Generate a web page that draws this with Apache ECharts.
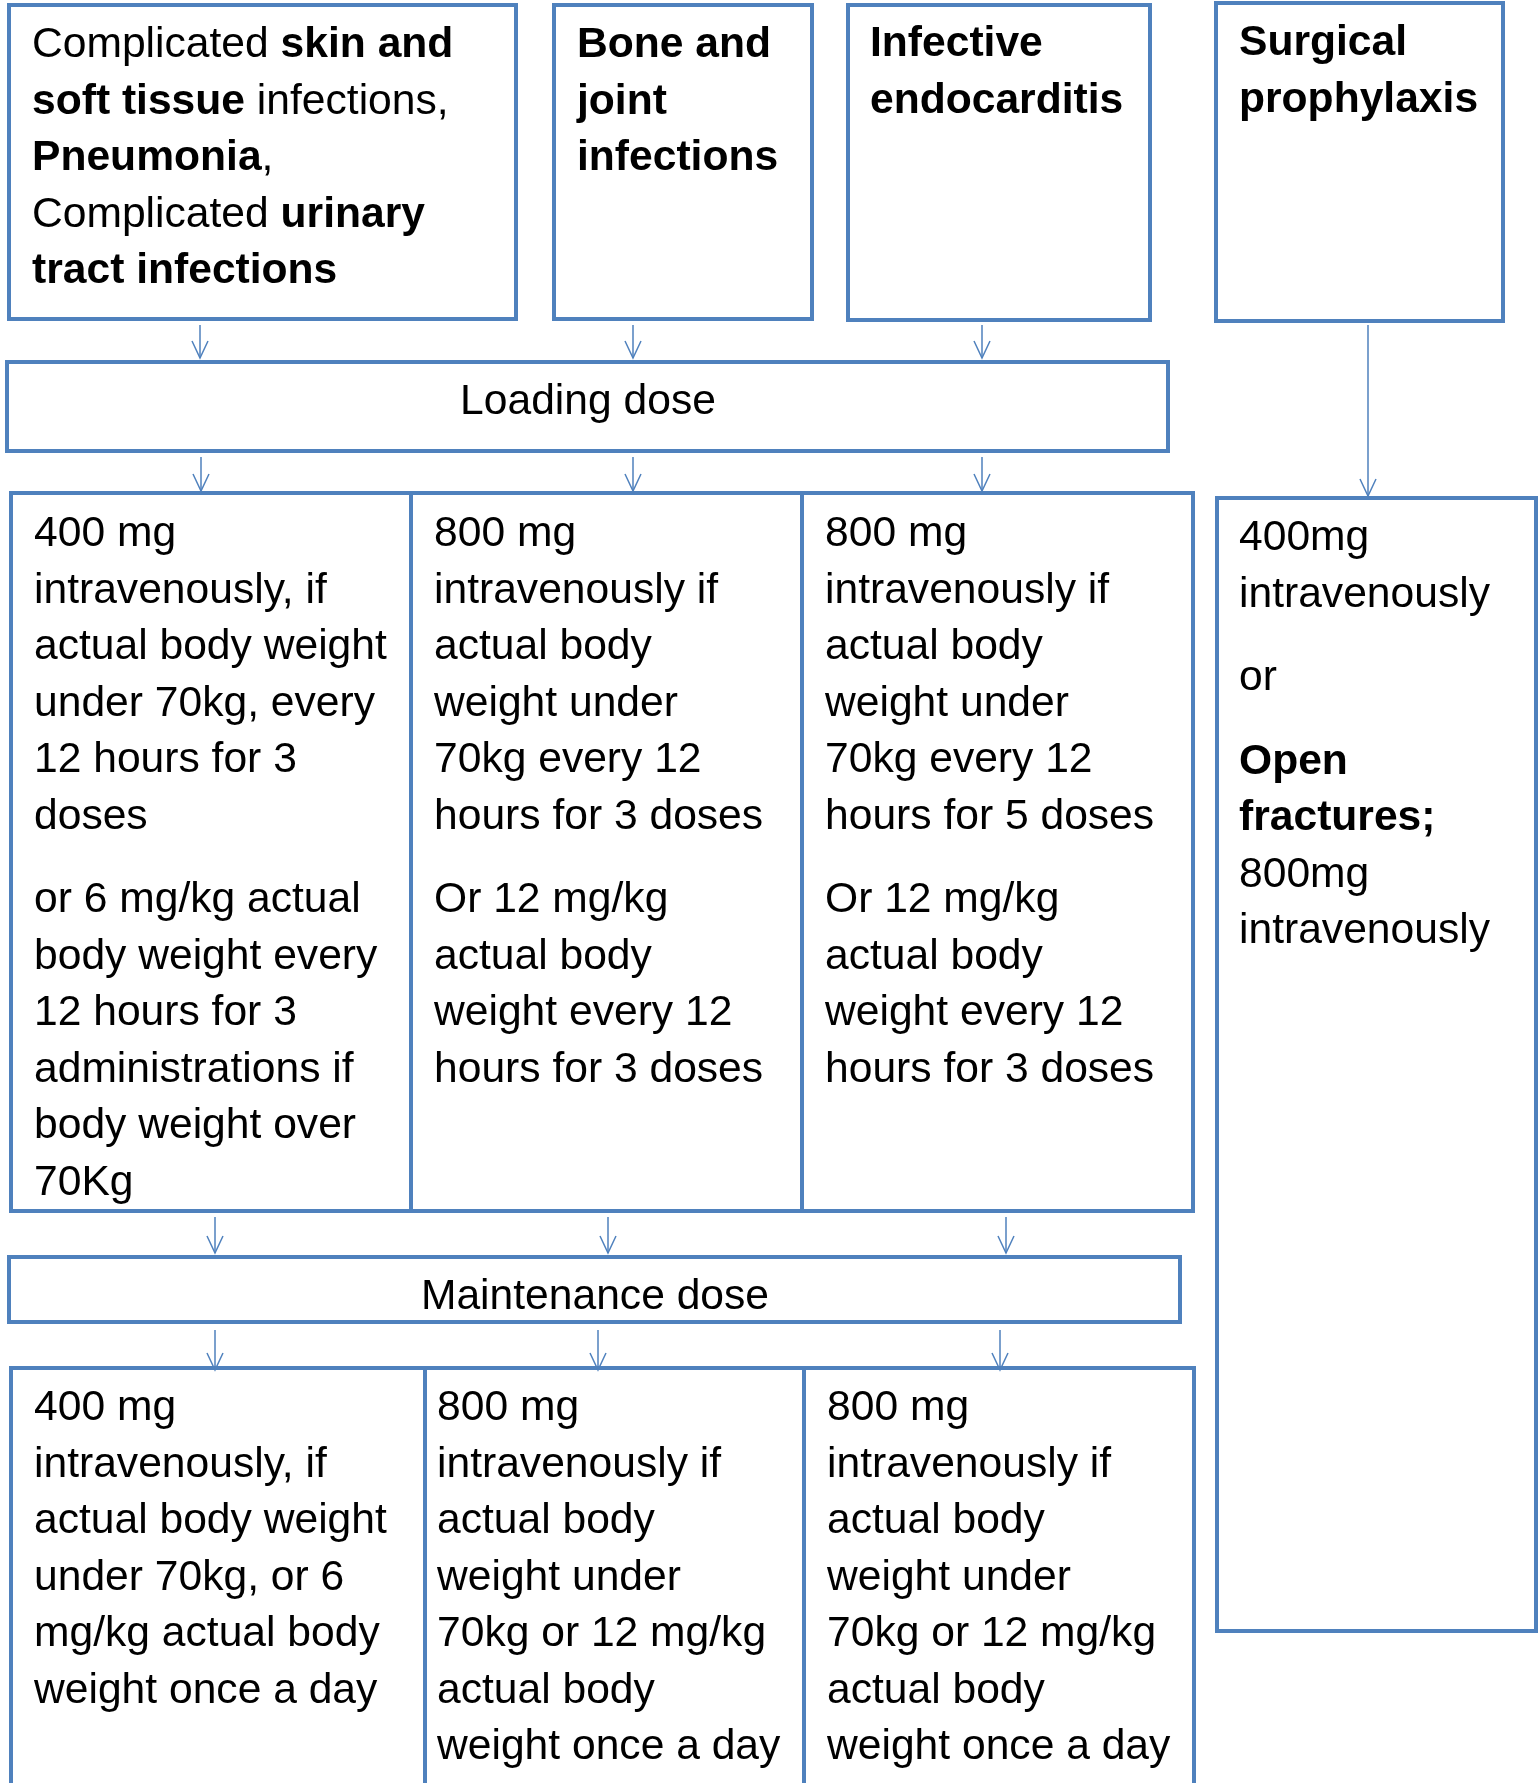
<!DOCTYPE html>
<html>
<head>
<meta charset="utf-8">
<title>Dosing flowchart</title>
<script src="https://cdn.jsdelivr.net/npm/echarts@6/dist/echarts.min.js"></script>
<style>
  html, body { margin: 0; padding: 0; background: #fff; }
  #chart { width: 1539px; height: 1783px; }
</style>
</head>
<body>
<div id="chart"></div>
<script>
// ---- texts ({b|...} marks a bold run) ----
const indications = [
  '{n|Complicated }{b|skin and}\n{b|soft tissue}{n| infections,}\n{b|Pneumonia}{n|,}\n{n|Complicated }{b|urinary}\n{b|tract infections}',
  '{b|Bone and}\n{b|joint}\n{b|infections}',
  '{b|Infective}\n{b|endocarditis}',
  '{b|Surgical}\n{b|prophylaxis}'
];
const stageLabels = ['Loading dose', 'Maintenance dose'];
const loadingDoses = [
  ['400 mg\nintravenously, if\nactual body weight\nunder 70kg, every\n12 hours for 3\ndoses',
   'or 6 mg/kg actual\nbody weight every\n12 hours for 3\nadministrations if\nbody weight over\n70Kg'],
  ['800 mg\nintravenously if\nactual body\nweight under\n70kg every 12\nhours for 3 doses',
   'Or 12 mg/kg\nactual body\nweight every 12\nhours for 3 doses'],
  ['800 mg\nintravenously if\nactual body\nweight under\n70kg every 12\nhours for 5 doses',
   'Or 12 mg/kg\nactual body\nweight every 12\nhours for 3 doses']
];
const maintenanceDoses = [
  ['400 mg\nintravenously, if\nactual body weight\nunder 70kg, or 6\nmg/kg actual body\nweight once a day'],
  ['800 mg\nintravenously if\nactual body\nweight under\n70kg or 12 mg/kg\nactual body\nweight once a day'],
  ['800 mg\nintravenously if\nactual body\nweight under\n70kg or 12 mg/kg\nactual body\nweight once a day']
];
const prophylaxisDose = ['400mg\nintravenously', 'or', '{b|Open}\n{b|fractures;}\n800mg\nintravenously'];

// ---- layout, in page pixels (x0, y0, x1, y1) ----
const topBoxes = [[9, 5, 516, 319], [554, 5, 812, 319], [848, 5, 1150, 320], [1216, 3, 1503, 321]];
const topTextPos = [[32, 57], [577, 57], [870, 56], [1239, 55]];
const loadingBox = [7, 362, 1168, 451];
const loadingLabelPos = [588, 414];
const loadingCols = [[11, 493, 411, 1211], [411, 493, 802, 1211], [802, 493, 1193, 1211]];
const loadingTextPos = [[34, 546], [434, 546], [825, 546]];
const maintenanceBox = [9, 1257, 1180, 1322];
const maintenanceLabelPos = [595, 1309];
const maintenanceCols = [[11, 1368, 425, 1800], [425, 1368, 804, 1800], [804, 1368, 1194, 1800]];
const maintenanceTextPos = [[34, 1420], [437, 1420], [827, 1420]];
const prophylaxisBox = [1217, 498, 1536, 1631];
const prophylaxisTextPos = [1239, 550];
const arrows = [
  [200, 325, 358], [633, 325, 358], [982, 325, 358], [1368, 325, 496],
  [201, 457, 491], [633, 457, 491], [982, 457, 491],
  [215, 1217, 1253], [608, 1217, 1253], [1006, 1217, 1253],
  [215, 1330, 1370], [598, 1330, 1370], [1000, 1330, 1370]
];

const BLUE = '#4F81BD';
const FONT = '"Liberation Sans", Arial, sans-serif';
const FS = 42.6;
const LH = 56.5;
const PARA_GAP = 27;
const BASE_OFF = LH / 2 + 0.3465 * FS - 3.5; // top of text box -> first baseline
const RICH = {
  n: { fontSize: FS, fontFamily: FONT, lineHeight: LH, fill: '#000' },
  b: { fontSize: FS, fontFamily: FONT, lineHeight: LH, fill: '#000', fontWeight: 'bold' }
};

// flatten into series data
const boxes = [...topBoxes, loadingBox, ...loadingCols, maintenanceBox, ...maintenanceCols, prophylaxisBox];
const textBlocks = [];
const textPos = [];
indications.forEach((t, i) => { textBlocks.push({ paras: [t], align: 'left' }); textPos.push(topTextPos[i]); });
textBlocks.push({ paras: [stageLabels[0]], align: 'center' }); textPos.push(loadingLabelPos);
loadingDoses.forEach((p, i) => { textBlocks.push({ paras: p, align: 'left' }); textPos.push(loadingTextPos[i]); });
textBlocks.push({ paras: [stageLabels[1]], align: 'center' }); textPos.push(maintenanceLabelPos);
maintenanceDoses.forEach((p, i) => { textBlocks.push({ paras: p, align: 'left' }); textPos.push(maintenanceTextPos[i]); });
textBlocks.push({ paras: prophylaxisDose, align: 'left' }); textPos.push(prophylaxisTextPos);

function renderBox(params, api) {
  const p0 = api.coord([api.value(0), api.value(1)]);
  const p1 = api.coord([api.value(2), api.value(3)]);
  return {
    type: 'rect',
    shape: { x: p0[0], y: p0[1], width: p1[0] - p0[0], height: p1[1] - p0[1] },
    style: { stroke: BLUE, lineWidth: 4, fill: '#fff' }
  };
}

function renderText(params, api) {
  const blk = textBlocks[params.dataIndex];
  const p = api.coord([api.value(0), api.value(1)]);
  const children = [];
  let y = p[1] - BASE_OFF;
  blk.paras.forEach(t => {
    children.push({
      type: 'text', x: p[0], y: y,
      style: {
        text: t, fill: '#000', fontSize: FS, fontFamily: FONT, lineHeight: LH,
        align: blk.align, verticalAlign: 'top', rich: RICH
      }
    });
    y += t.split('\n').length * LH + PARA_GAP;
  });
  return { type: 'group', children: children };
}

function renderArrow(params, api) {
  const a = api.coord([api.value(0), api.value(1)]);
  const b = api.coord([api.value(0), api.value(2)]);
  return {
    type: 'group',
    children: [
      { type: 'line', shape: { x1: a[0], y1: a[1], x2: b[0], y2: b[1] }, style: { stroke: BLUE, lineWidth: 1.5 } },
      { type: 'polyline', shape: { points: [[b[0] - 8, b[1] - 17], [b[0], b[1]], [b[0] + 8, b[1] - 17]] },
        style: { stroke: BLUE, lineWidth: 1.5, fill: 'none' } }
    ]
  };
}

const chart = echarts.init(document.getElementById('chart'));
chart.setOption({
  animation: false,
  backgroundColor: '#fff',
  grid: { left: 0, right: 0, top: 0, bottom: 0 },
  xAxis: { type: 'value', min: 0, max: 1539, show: false },
  yAxis: { type: 'value', min: 0, max: 1783, inverse: true, show: false },
  series: [
    { type: 'custom', name: 'boxes', renderItem: renderBox, data: boxes, silent: true },
    { type: 'custom', name: 'texts', renderItem: renderText, data: textPos, silent: true },
    { type: 'custom', name: 'arrows', renderItem: renderArrow, data: arrows, silent: true }
  ]
});
</script>
</body>
</html>
